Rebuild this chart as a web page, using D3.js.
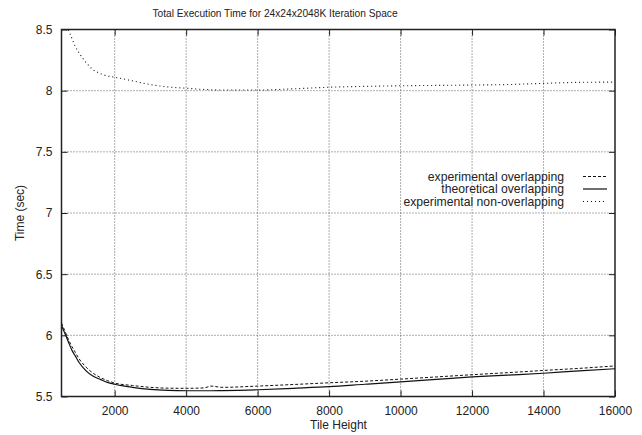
<!DOCTYPE html>
<html>
<head>
<meta charset="utf-8">
<script src="https://cdn.jsdelivr.net/npm/d3@7"></script>
<style>
  body { margin: 0; background: #fff; }
  text { font-family: "Liberation Sans", Arial, sans-serif; fill: #222; }
</style>
</head>
<body>
<div class="canvas"></div>
<script>
// ---------- data ----------
const tileHeights = [512, 600, 700, 800, 900, 1000, 1200, 1400, 1600, 1800, 2000, 2500, 3000, 3500,
    4000, 4500, 4700, 5000, 6000, 7000, 8000, 9000, 10000, 11000, 12000, 13000, 14000, 15000, 16000];

const expOverlap = [6.10, 6.04, 5.97, 5.91, 5.86, 5.81, 5.74, 5.69, 5.655, 5.63, 5.61, 5.59, 5.575, 5.568,
    5.567, 5.57, 5.585, 5.575, 5.585, 5.598, 5.612, 5.625, 5.642, 5.66, 5.678, 5.695, 5.713, 5.73, 5.75];

const theoOverlap = [6.08, 6.02, 5.95, 5.88, 5.83, 5.78, 5.71, 5.665, 5.64, 5.615, 5.60, 5.575, 5.558, 5.55,
    5.547, 5.547, 5.547, 5.548, 5.555, 5.567, 5.58, 5.60, 5.62, 5.64, 5.66, 5.675, 5.69, 5.71, 5.727];

const expNonOverlap = [8.65, 8.58, 8.50, 8.43, 8.36, 8.31, 8.23, 8.17, 8.14, 8.12, 8.11, 8.08, 8.05, 8.03,
    8.02, 8.01, 8.008, 8.005, 8.005, 8.015, 8.028, 8.035, 8.04, 8.043, 8.046, 8.05, 8.06, 8.068, 8.07];

const xTicks = [2000, 4000, 6000, 8000, 10000, 12000, 14000, 16000];
const yTicks = [5.5, 6, 6.5, 7, 7.5, 8, 8.5];

const seriesNames = ['experimental overlapping', 'theoretical overlapping', 'experimental non-overlapping'];

// ---------- canvas ----------
const width = 642, height = 435;
const margin = { top: 29.5, right: 27, bottom: 38.5, left: 61.5 };
const graphWidth = width - margin.left - margin.right;
const graphHeight = height - margin.top - margin.bottom;

const svg = d3.select('.canvas')
    .append('svg')
    .attr('width', width)
    .attr('height', height);

const graph = svg.append('g')
    .attr('transform', `translate(${margin.left}, ${margin.top})`);

const x = d3.scaleLinear().domain([512, 16000]).range([0, graphWidth]);
const y = d3.scaleLinear().domain([5.5, 8.5]).range([graphHeight, 0]);

svg.append('defs').append('clipPath').attr('id', 'clip')
    .append('rect').attr('width', graphWidth).attr('height', graphHeight);

// grid (dotted)
const gridStyle = sel => sel.attr('stroke', '#333').attr('stroke-width', 0.8).attr('stroke-dasharray', '1,2');
graph.selectAll('.gx').data(xTicks.filter(d => d < 16000)).enter().append('line')
    .attr('x1', d => x(d)).attr('x2', d => x(d)).attr('y1', 0).attr('y2', graphHeight)
    .call(gridStyle);
graph.selectAll('.gy').data(yTicks.filter(d => d > 5.5 && d < 8.5)).enter().append('line')
    .attr('x1', 0).attr('x2', graphWidth).attr('y1', d => y(d)).attr('y2', d => y(d))
    .call(gridStyle);

// axes: ticks inward on all four sides
const xAxisBottom = graph.append('g').attr('transform', `translate(0, ${graphHeight})`)
    .call(d3.axisBottom(x).tickValues(xTicks).tickSizeInner(-6).tickSizeOuter(0).tickPadding(10).tickFormat(d3.format('d')));
const xAxisTop = graph.append('g')
    .call(d3.axisTop(x).tickValues(xTicks).tickSizeInner(-6).tickSizeOuter(0).tickFormat(''));
const yAxisLeft = graph.append('g')
    .call(d3.axisLeft(y).tickValues(yTicks).tickSizeInner(-6).tickSizeOuter(0).tickPadding(9).tickFormat(d => d));
const yAxisRight = graph.append('g').attr('transform', `translate(${graphWidth}, 0)`)
    .call(d3.axisRight(y).tickValues(yTicks).tickSizeInner(-6).tickSizeOuter(0).tickFormat(''));

[xAxisBottom, xAxisTop, yAxisLeft, yAxisRight].forEach(g => {
    g.select('.domain').remove();
    g.selectAll('line').attr('stroke', '#222').attr('stroke-width', 1);
    g.selectAll('text').attr('font-size', 12).attr('fill', '#222')
        .attr('font-family', '"Liberation Sans", Arial, sans-serif');
});

// frame
graph.append('rect')
    .attr('width', graphWidth).attr('height', graphHeight)
    .attr('fill', 'none').attr('stroke', '#222').attr('stroke-width', 1.5);

// curves
const styles = [
    { values: expOverlap, dash: '3,2', w: 1 },
    { values: theoOverlap, dash: null, w: 1.2 },
    { values: expNonOverlap, dash: '1,3', w: 1.1 }
];

const line = d3.line().curve(d3.curveMonotoneX);
const curves = graph.append('g').attr('clip-path', 'url(#clip)');
styles.forEach(s => {
    curves.append('path')
        .datum(tileHeights.map((t, i) => [x(t), y(s.values[i])]))
        .attr('d', line)
        .attr('fill', 'none')
        .attr('stroke', '#111')
        .attr('stroke-width', s.w)
        .attr('stroke-dasharray', s.dash);
});

// legend
const legend = svg.append('g');
seriesNames.forEach((name, i) => {
    const ly = 176.5 + i * 12.5;
    legend.append('text')
        .attr('x', 564).attr('y', ly).attr('dy', '0.35em')
        .attr('text-anchor', 'end').attr('font-size', 12.2)
        .text(name);
    legend.append('line')
        .attr('x1', 583).attr('x2', 607).attr('y1', ly).attr('y2', ly)
        .attr('stroke', '#111').attr('stroke-width', styles[i].w)
        .attr('stroke-dasharray', styles[i].dash);
});

// titles
svg.append('text')
    .attr('x', 275).attr('y', 16.5)
    .attr('text-anchor', 'middle').attr('font-size', 10.2)
    .text('Total Execution Time for 24x24x2048K Iteration Space');

svg.append('text')
    .attr('x', 338.5).attr('y', 429)
    .attr('text-anchor', 'middle').attr('font-size', 12)
    .text('Tile Height');

svg.append('text')
    .attr('transform', 'translate(24, 213) rotate(-90)')
    .attr('text-anchor', 'middle').attr('font-size', 12)
    .text('Time (sec)');
</script>
</body>
</html>
